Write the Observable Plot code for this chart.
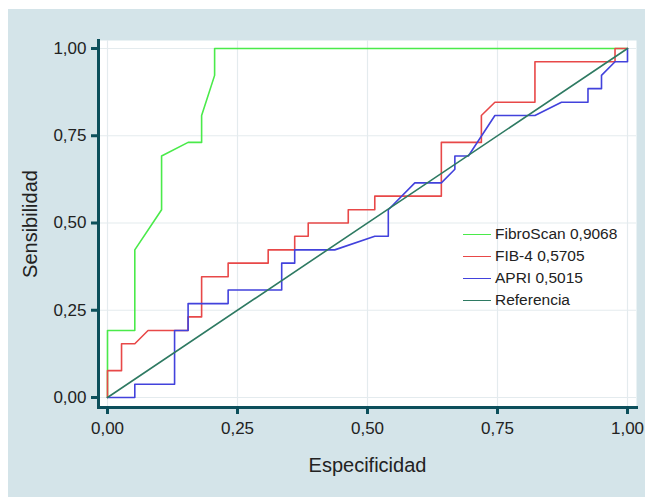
<!DOCTYPE html>
<html>
<head>
<meta charset="utf-8">
<script src="https://cdn.jsdelivr.net/npm/d3@7"></script>
<script src="https://cdn.jsdelivr.net/npm/@observablehq/plot@0.6"></script>
<style>
  html, body { margin: 0; padding: 0; background: #ffffff; }
  #wrap { position: relative; width: 645px; height: 497px; background: #ffffff; overflow: hidden; }
  #panel { position: absolute; left: 8px; top: 9px; width: 637px; height: 488px; background: #d4e4e9; }
  #chart { position: absolute; left: 0; top: 0; }
  #legend { position: absolute; left: 463px; top: 223px; font-family: "Liberation Sans", Arial, sans-serif; font-size: 15.5px; color: #222; }
  #legend .row { display: flex; align-items: center; height: 22px; }
  #legend .sw { width: 28px; height: 0; border-top: 1.6px solid; margin-right: 4px; }
</style>
</head>
<body>
<div id="wrap">
  <div id="panel"></div>
  <div id="chart"></div>
  <div id="legend"></div>
</div>
<script>
// Series names and AUC labels
const seriesNames = ["FibroScan 0,9068", "FIB-4 0,5705", "APRI 0,5015", "Referencia"];
const seriesColors = ["#4aea4a", "#e84848", "#4242dc", "#2e7a62"];

// FibroScan curve (Especificidad, Sensibilidad)
const fibroX = [0, 0, 0.0525, 0.0525, 0.104, 0.104, 0.155, 0.181, 0.181, 0.206, 0.206, 1];
const fibroY = [0, 0.192, 0.192, 0.423, 0.538, 0.692, 0.731, 0.731, 0.808, 0.923, 1, 1];

// FIB-4 curve
const fib4X = [0, 0, 0.027, 0.027, 0.0525, 0.078, 0.155, 0.155, 0.181, 0.181, 0.232, 0.232, 0.309, 0.309, 0.36, 0.36, 0.386, 0.386, 0.463, 0.463, 0.514, 0.514, 0.642, 0.642, 0.719, 0.719, 0.745, 0.822, 0.822, 0.976, 0.976, 1];
const fib4Y = [0, 0.077, 0.077, 0.154, 0.154, 0.192, 0.192, 0.231, 0.231, 0.346, 0.346, 0.385, 0.385, 0.423, 0.423, 0.462, 0.462, 0.5, 0.5, 0.538, 0.538, 0.577, 0.577, 0.731, 0.731, 0.808, 0.846, 0.846, 0.962, 0.962, 1, 1];

// APRI curve
const apriX = [0, 0.0525, 0.0525, 0.129, 0.129, 0.155, 0.155, 0.232, 0.232, 0.335, 0.335, 0.36, 0.36, 0.437, 0.514, 0.54, 0.54, 0.591, 0.642, 0.668, 0.668, 0.694, 0.745, 0.822, 0.873, 0.924, 0.924, 0.95, 0.95, 0.976, 1, 1];
const apriY = [0, 0, 0.038, 0.038, 0.192, 0.192, 0.269, 0.269, 0.308, 0.308, 0.385, 0.385, 0.423, 0.423, 0.462, 0.462, 0.538, 0.615, 0.615, 0.654, 0.692, 0.692, 0.808, 0.808, 0.846, 0.846, 0.885, 0.885, 0.923, 0.962, 0.962, 1];

// Reference diagonal
const refX = [0, 1];
const refY = [0, 1];

// Axis ticks
const ticks = [0, 0.25, 0.5, 0.75, 1];
const xLabel = "Especificidad";
const yLabel = "Sensibilidad";

const toRows = (xs, ys) => xs.map((x, i) => ({x, y: ys[i]}));
const curves = [toRows(fibroX, fibroY), toRows(fib4X, fib4Y), toRows(apriX, apriY), toRows(refX, refY)];

const fmt = d => d.toFixed(2).replace(".", ",");
const axisColor = "#0c4f5b";
const font = '"Liberation Sans", Arial, sans-serif';

const chart = Plot.plot({
  width: 645,
  height: 497,
  marginLeft: 98,
  marginRight: 9,
  marginTop: 40,
  marginBottom: 90,
  x: {domain: [0, 1], insetLeft: 9, insetRight: 9},
  y: {domain: [0, 1], insetTop: 8, insetBottom: 10},
  style: {background: "transparent", fontFamily: font, fontSize: "17px", color: "#222"},
  marks: [
    Plot.frame({fill: "white", stroke: "none"}),
    Plot.gridX(ticks, {stroke: "#e4ebee", strokeOpacity: 1, strokeWidth: 1.2}),
    Plot.gridY(ticks, {stroke: "#e4ebee", strokeOpacity: 1, strokeWidth: 1.2}),
    Plot.line(curves[0], {x: "x", y: "y", stroke: seriesColors[0], strokeWidth: 1.6}),
    Plot.line(curves[1], {x: "x", y: "y", stroke: seriesColors[1], strokeWidth: 1.6}),
    Plot.line(curves[2], {x: "x", y: "y", stroke: seriesColors[2], strokeWidth: 1.6}),
    Plot.line(curves[3], {x: "x", y: "y", stroke: seriesColors[3], strokeWidth: 1.6}),
    Plot.frame({anchor: "left", stroke: axisColor, strokeWidth: 3}),
    Plot.frame({anchor: "bottom", stroke: axisColor, strokeWidth: 3}),
    Plot.axisX(ticks, {tickSize: 7, tickPadding: 7, stroke: axisColor, strokeWidth: 3, fill: "#222", tickFormat: fmt, label: null}),
    Plot.axisY(ticks, {tickSize: 7, tickPadding: 5, stroke: axisColor, strokeWidth: 3, fill: "#222", tickFormat: fmt, label: null}),
    Plot.text([xLabel], {frameAnchor: "bottom", dy: 64, fontSize: 20, fill: "#222"}),
    Plot.text([yLabel], {frameAnchor: "left", textAnchor: "middle", rotate: -90, dx: -68, fontSize: 20, fill: "#222"})
  ]
});
document.getElementById("chart").appendChild(chart);

const legend = document.getElementById("legend");
seriesNames.forEach((name, i) => {
  const row = document.createElement("div");
  row.className = "row";
  const sw = document.createElement("span");
  sw.className = "sw";
  sw.style.borderColor = seriesColors[i];
  const t = document.createElement("span");
  t.textContent = name;
  row.appendChild(sw);
  row.appendChild(t);
  legend.appendChild(row);
});
</script>
</body>
</html>
